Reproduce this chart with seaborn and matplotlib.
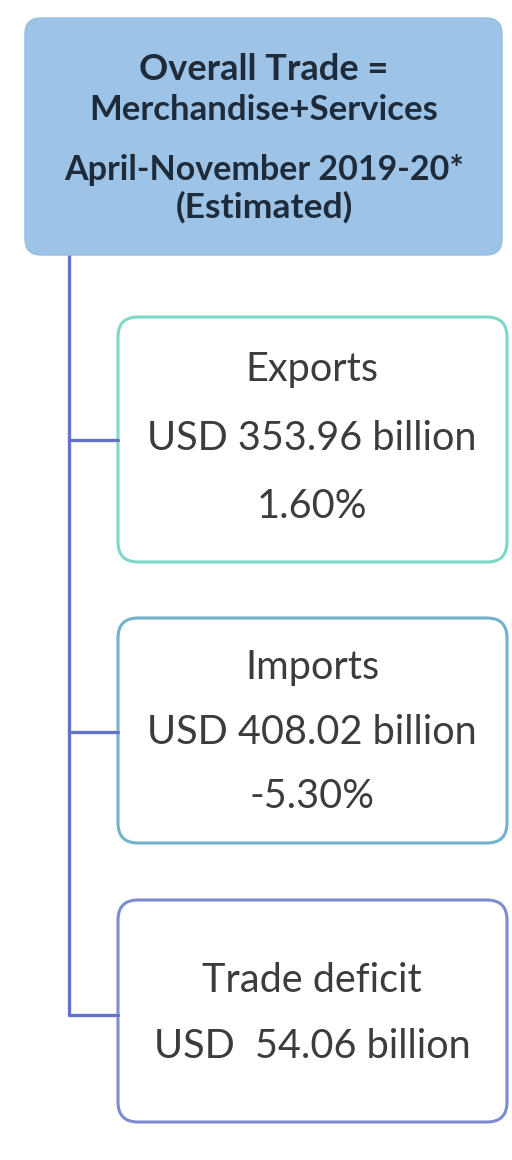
"""
Overall trade summary tree: April-November 2019-20 (estimated)
"""

import matplotlib
matplotlib.use("Agg")
import matplotlib.pyplot as plt
import seaborn as sns
from matplotlib.patches import FancyBboxPatch

# Data
header_lines = ["Overall Trade =", "Merchandise+Services", "April-November 2019-20*", "(Estimated)"]
categories = ["Exports", "Imports", "Trade deficit"]
values_usd_bn = ["353.96", "408.02", " 54.06"]
growth_pct = ["1.60%", "-5.30%", None]

sns.set_theme(style="white")
plt.rcParams["font.family"] = ["Lato", "DejaVu Sans"]

W, H = 512, 1160
fig = plt.figure(figsize=(W / 100, H / 100), dpi=100)
ax = fig.add_axes([0, 0, 1, 1])
ax.set_xlim(0, W)
ax.set_ylim(H, 0)
ax.axis("off")

# Header box
ax.add_patch(FancyBboxPatch((25 + 16, 18 + 16), 477 - 32, 237 - 32,
                            boxstyle="round,pad=16", facecolor="#9DC3E6",
                            edgecolor="#96BDE2", linewidth=1))
header_y = [70, 110, 170, 207]
header_size = [26, 25, 24.5, 25.5]
for line, y, fs in zip(header_lines, header_y, header_size):
    ax.text(264, y, line, ha="center", va="center", fontsize=fs,
            fontweight="bold", color="#1E2B3A")

# Tree connector
line_color = "#6373C9"
trunk_x = 69
box_left, box_right = 118, 507
boxes = [
    (317, 562, "#7ED8C9"),
    (618, 843, "#72B3CB"),
    (900, 1122, "#7C8CD0"),
]
connector_y = [440, 732, 1015]
ax.plot([trunk_x, trunk_x], [255, connector_y[-1]], color=line_color, lw=2.4,
        solid_capstyle="butt")
for cy in connector_y:
    ax.plot([trunk_x, box_left], [cy, cy], color=line_color, lw=2.4)

# Child boxes
text_rows = [
    [370, 438, 507],
    [667, 732, 797],
    [980, 1047],
]
for (top, bottom, ec), cat, val, pct, rows in zip(boxes, categories, values_usd_bn,
                                                   growth_pct, text_rows):
    r = 20
    ax.add_patch(FancyBboxPatch((box_left + r, top + r), box_right - box_left - 2 * r,
                                bottom - top - 2 * r, boxstyle=f"round,pad={r}",
                                facecolor="white", edgecolor=ec, linewidth=2.2))
    lines = [cat, f"USD {val} billion"]
    if pct is not None:
        lines.append(pct)
    for line, y in zip(lines, rows):
        ax.text(312, y, line, ha="center", va="center", fontsize=28.5, color="#3C3C3C")

fig.savefig("out.png", dpi=100, facecolor="white")
